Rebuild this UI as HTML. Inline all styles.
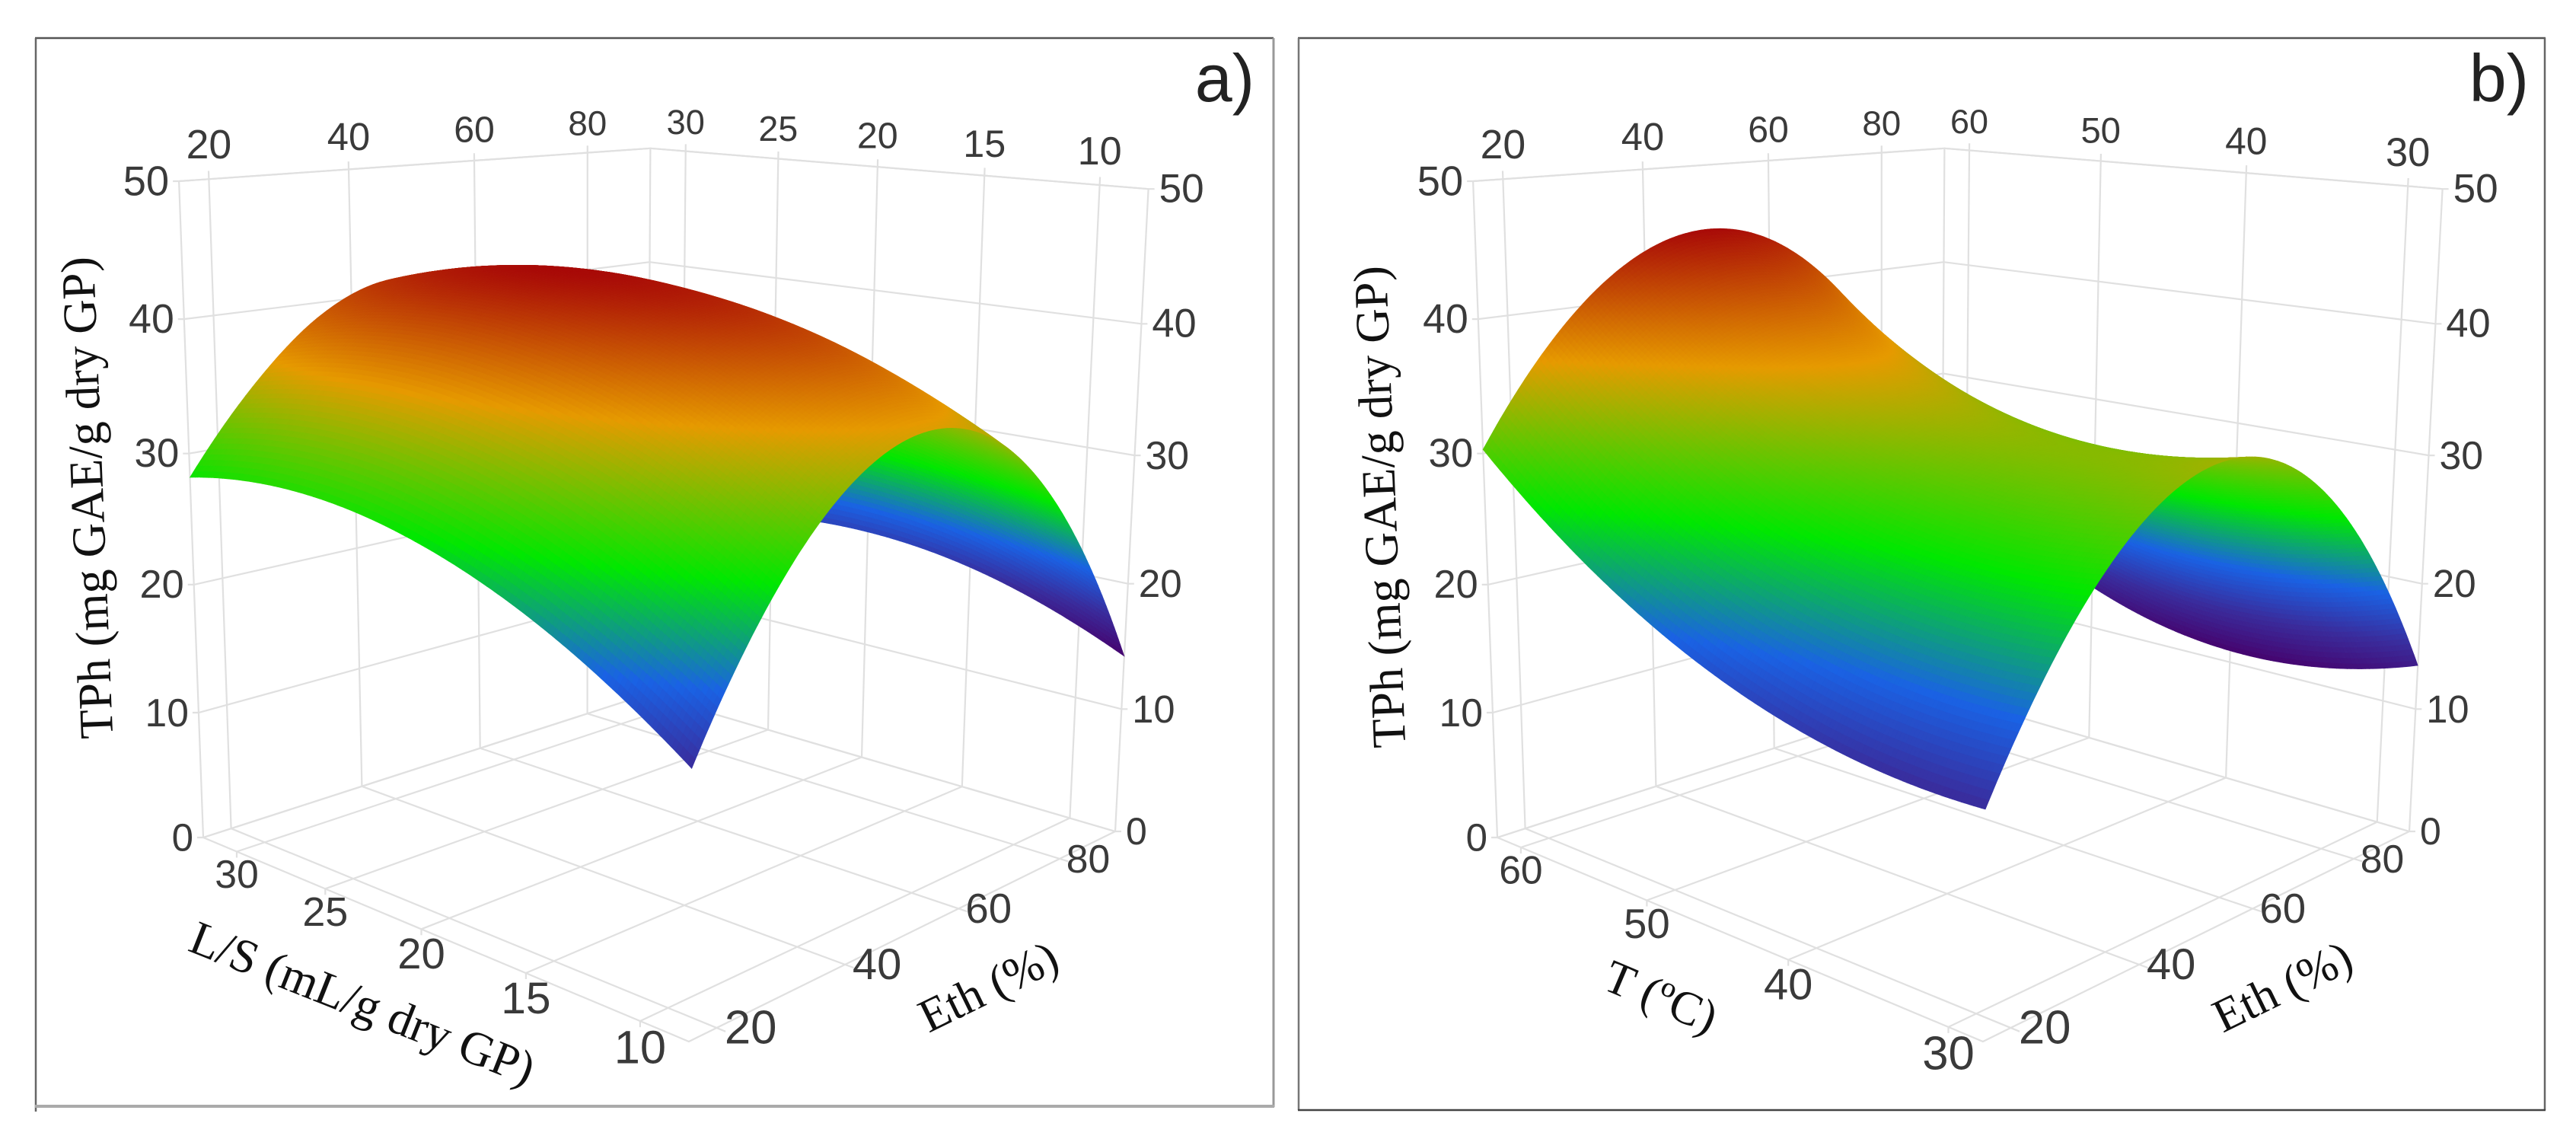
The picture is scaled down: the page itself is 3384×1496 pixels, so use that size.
<!DOCTYPE html>
<html lang="en">
<head>
<meta charset="utf-8">
<title>TPh response surfaces</title>
<style>
html,body{margin:0;padding:0;background:#fff;}
svg{display:block;}
.tick{font-family:"Liberation Sans",sans-serif;fill:#3a3a3a;dominant-baseline:central;}
.title{font-family:"Liberation Serif",serif;fill:#111;}
.letter{font-family:"Liberation Sans",sans-serif;fill:#222;font-size:88px;}
</style>
</head>
<body>
<svg id="chart" xmlns="http://www.w3.org/2000/svg" width="3384" height="1496" viewBox="0 0 3384 1496">
  <rect x="0" y="0" width="3384" height="1496" fill="#ffffff"/>
  <g>
    <line x1="46" y1="50" x2="1673" y2="50" stroke="#555" stroke-width="2.5"/>
    <line x1="47" y1="50" x2="47" y2="1460" stroke="#666" stroke-width="2.5"/>
    <line x1="1673" y1="50" x2="1673" y2="1454" stroke="#999" stroke-width="3"/>
    <line x1="46" y1="1453" x2="1674" y2="1453" stroke="#aaa" stroke-width="4"/>
  </g>
  <g>
    <line x1="1705" y1="50" x2="3344" y2="50" stroke="#555" stroke-width="2.5"/>
    <line x1="1706" y1="50" x2="1706" y2="1458" stroke="#777" stroke-width="2.5"/>
    <line x1="3343" y1="50" x2="3343" y2="1458" stroke="#666" stroke-width="2.5"/>
    <line x1="1705" y1="1458" x2="3344" y2="1458" stroke="#444" stroke-width="2.5"/>
  </g>
  <g id="panelA"></g>
  <g id="panelB"></g>
  <text class="letter" x="1648" y="133" text-anchor="end">a)</text>
  <text class="letter" x="3322" y="133" text-anchor="end">b)</text>
  <text class="title" font-size="63" text-anchor="middle" transform="translate(135.5,653) rotate(-92.3)">TPh (mg GAE/g dry GP)</text>
  <text class="title" font-size="63" transform="translate(245,1248) rotate(21.7)">L/S (mL/g dry GP)</text>
  <text class="title" font-size="62" transform="translate(1220,1357) rotate(-26)">Eth (%)</text>
  <text class="title" font-size="63" text-anchor="middle" transform="translate(1833.5,665) rotate(-92.3)">TPh (mg GAE/g dry GP)</text>
  <text class="title" font-size="62" transform="translate(2103,1298) rotate(23)">T (ºC)</text>
  <text class="title" font-size="62" transform="translate(2920,1357) rotate(-26)">Eth (%)</text>
</svg>
<script>
// ---- chart data ----
const zTicks = [0, 10, 20, 30, 40, 50];
const ethTicks = [20, 40, 60, 80];
const lsTicks = [30, 25, 20, 15, 10];
const tempTicks = [60, 50, 40, 30];

const ethGrid = [16, 25.5, 35, 44.5, 54, 63.5, 73, 82.5, 92];
const lsGrid = [32, 29, 26, 23, 20, 17, 14, 11, 8];
const tempGrid = [62, 57.75, 53.5, 49.25, 45, 40.75, 36.5, 32.25, 28];

// rows: Eth ascending; columns: L/S descending
const tphLs = [
  [28.20, 28.95, 29.12, 28.71, 27.71, 26.15, 24.01, 21.26, 17.92],
  [34.47, 35.43, 35.81, 35.60, 34.81, 33.53, 31.66, 29.11, 25.98],
  [38.90, 40.01, 40.54, 40.47, 39.83, 38.70, 36.98, 34.59, 31.60],
  [41.03, 42.27, 42.92, 42.99, 42.48, 41.48, 39.89, 37.63, 34.77],
  [40.70, 42.08, 42.87, 43.07, 42.69, 41.83, 40.38, 38.25, 35.53],
  [37.95, 39.46, 40.39, 40.73, 40.48, 39.76, 38.44, 36.45, 33.87],
  [32.86, 34.50, 35.55, 36.01, 35.90, 35.28, 34.09, 32.22, 29.76],
  [25.57, 27.30, 28.45, 29.02, 29.00, 28.46, 27.34, 25.57, 23.21],
  [15.91, 17.75, 18.99, 19.66, 19.73, 19.25, 18.18, 16.50, 14.24]
];

// rows: Eth ascending; columns: T descending
const tphTemp = [
  [30.30, 26.57, 23.36, 20.69, 18.55, 16.94, 15.86, 15.32, 15.30],
  [37.34, 33.63, 30.49, 27.90, 25.88, 24.42, 23.53, 23.19, 23.42],
  [42.09, 38.40, 35.29, 32.78, 30.87, 29.55, 28.82, 28.69, 29.15],
  [44.55, 40.85, 37.79, 35.34, 33.52, 32.33, 31.76, 31.82, 32.50],
  [44.72, 41.02, 37.97, 35.58, 33.84, 32.76, 32.34, 32.58, 33.47],
  [42.61, 38.88, 35.85, 33.49, 31.83, 30.86, 30.58, 30.97, 32.06],
  [38.20, 34.44, 31.40, 29.08, 27.48, 26.59, 26.43, 26.99, 28.26],
  [31.49, 27.69, 24.63, 22.34, 20.78, 19.98, 19.92, 20.63, 22.07],
  [22.50, 18.64, 15.56, 13.27, 11.75, 11.02, 11.06, 11.89, 13.50]
];

// ---- rendering ----
const SVGNS = 'http://www.w3.org/2000/svg';
const GRID_COLOR = '#e0e0e0';
const STEPS = 150;
const rampStops = [0, 0.13, 0.27, 0.47, 0.745, 1];
const rampColors = [[70,4,110],[58,44,156],[26,98,228],[0,232,0],[230,154,0],[168,10,8]];

function rampColor(t) {
  t = Math.max(0, Math.min(1, t));
  let k = 0;
  while (k < rampStops.length - 2 && t > rampStops[k + 1]) k++;
  const f = (t - rampStops[k]) / (rampStops[k + 1] - rampStops[k]);
  const a = rampColors[k], b = rampColors[k + 1];
  return 'rgb(' + Math.round(a[0] + (b[0] - a[0]) * f) + ',' + Math.round(a[1] + (b[1] - a[1]) * f) + ',' + Math.round(a[2] + (b[2] - a[2]) * f) + ')';
}

function depth(u, v, s) { return 1 + 0.2056 * u - 0.1847 * v - 0.06 * s; }

function project(u, v, s, dx) {
  const w = depth(u, v, s);
  return {
    x: (267 + 757.8 * u + 470.8 * v - 46 * s) / w + dx,
    y: (1100 - 0.5 * u + 15.3 * v - 876.3 * s) / w,
    w: w
  };
}

function cr(a, b, c, d, t) {
  return 0.5 * (2 * b + (c - a) * t + (2 * a - 5 * b + 4 * c - d) * t * t + (3 * b - a - 3 * c + d) * t * t * t);
}

function withGhosts(arr) {
  const n = arr.length;
  return [3 * arr[0] - 3 * arr[1] + arr[2]].concat(arr, [3 * arr[n - 1] - 3 * arr[n - 2] + arr[n - 3]]);
}

function sample1d(arr, f) {
  const g = withGhosts(arr);
  const n = arr.length;
  const i = Math.max(0, Math.min(n - 2, Math.floor(f)));
  return cr(g[i], g[i + 1], g[i + 2], g[i + 3], f - i);
}

function sampleGrid(table, fi, fj) {
  const col = table.map(function (row) { return sample1d(row, fj); });
  return sample1d(col, fi);
}

function drawPanel(group, dx, prefix, rowGrid, colGrid, table, colTicks) {
  const rMin = rowGrid[0], rMax = rowGrid[rowGrid.length - 1];
  const cMax = colGrid[0], cMin = colGrid[colGrid.length - 1];
  const uOf = function (e) { return (e - rMin) / (rMax - rMin); };
  const vOf = function (c) { return (cMax - c) / (cMax - cMin); };
  const sOf = function (z) { return z / 50; };
  const P = function (u, v, s) { return project(u, v, s, dx); };

  function polyline(pts, name) {
    const el = document.createElementNS(SVGNS, 'polyline');
    el.setAttribute('points', pts.map(function (p) { return p.x.toFixed(1) + ',' + p.y.toFixed(1); }).join(' '));
    el.setAttribute('fill', 'none');
    el.setAttribute('stroke', GRID_COLOR);
    el.setAttribute('stroke-width', '2.2');
    
    
    group.appendChild(el);
  }

  function label(txt, x, y, w, anchor, name) {
    const el = document.createElementNS(SVGNS, 'text');
    el.setAttribute('class', 'tick');
    el.setAttribute('x', x.toFixed(1));
    el.setAttribute('y', y.toFixed(1));
    el.setAttribute('text-anchor', anchor);
    el.setAttribute('font-size', (51 / w).toFixed(1));
    el.textContent = txt;
    
    
    group.appendChild(el);
  }

  // box outline
  polyline([P(0,0,0), P(1,0,0), P(1,1,0), P(0,1,0), P(0,0,0)], prefix + '-floor-outline');
  polyline([P(0,0,0), P(0,0,1)], prefix + '-left-edge');
  polyline([P(1,0,0), P(1,0,1)], prefix + '-back-edge');
  polyline([P(1,1,0), P(1,1,1)], prefix + '-right-edge');
  polyline([P(0,0,1), P(1,0,1), P(1,1,1)], prefix + '-top-edge');

  // z gridlines + labels
  zTicks.forEach(function (z) {
    const s = sOf(z);
    const a = P(0,0,s), b = P(1,0,s), c = P(1,1,s);
    polyline([{x:a.x - 8, y:a.y}, a, b, c, {x:c.x + 8, y:c.y}], prefix + '-z-gridline');
    label(String(z), a.x - 13, a.y, a.w, 'end', prefix + '-z-tick-left');
    label(String(z), c.x + 14, c.y, c.w, 'start', prefix + '-z-tick-right');
  });

  // Eth gridlines + labels
  ethTicks.forEach(function (e) {
    const u = uOf(e);
    polyline([P(u,0,0), P(u,0,1.012)], prefix + '-eth-wall-gridline');
    polyline([P(u,0,0), P(u,1.015,0)], prefix + '-eth-floor-gridline');
    const top = P(u,0,1);
    label(String(e), top.x, top.y - 43 / top.w, top.w, 'middle', prefix + '-eth-tick-top');
    const low = P(u,1,0);
    label(String(e), low.x + 37 / low.w, low.y, low.w, 'middle', prefix + '-eth-tick-bottom');
  });

  // second factor gridlines + labels
  colTicks.forEach(function (c) {
    const v = vOf(c);
    polyline([P(1,v,0), P(1,v,1.012)], prefix + '-factor-wall-gridline');
    const edge = P(0,v,0);
    polyline([P(1,v,0), edge, {x:edge.x, y:edge.y + 8}], prefix + '-factor-floor-gridline');
    const top = P(1,v,1);
    label(String(c), top.x, top.y - 43 / top.w, top.w, 'middle', prefix + '-factor-tick-top');
    label(String(c), edge.x, edge.y + 29 / edge.w, edge.w, 'middle', prefix + '-factor-tick-bottom');
  });

  // surface
  const nodes = [];
  let zMin = Infinity, zMax = -Infinity;
  const fiScale = (rowGrid.length - 1) / STEPS, fjScale = (colGrid.length - 1) / STEPS;
  for (let i = 0; i <= STEPS; i++) {
    const row = [];
    for (let j = 0; j <= STEPS; j++) {
      const z = sampleGrid(table, i * fiScale, j * fjScale);
      if (z < zMin) zMin = z;
      if (z > zMax) zMax = z;
      const e = rMin + (rMax - rMin) * i / STEPS;
      const c = cMax + (cMin - cMax) * j / STEPS;
      const p = P(uOf(e), vOf(c), sOf(z));
      p.z = z;
      row.push(p);
    }
    nodes.push(row);
  }
  const cells = [];
  for (let i = 0; i < STEPS; i++) {
    for (let j = 0; j < STEPS; j++) {
      const a = nodes[i][j], b = nodes[i + 1][j], c = nodes[i + 1][j + 1], d = nodes[i][j + 1];
      cells.push({pts:[a,b,c,d], w:(a.w + b.w + c.w + d.w) / 4, z:(a.z + b.z + c.z + d.z) / 4});
    }
  }
  cells.sort(function (p, q) { return q.w - p.w; });
  const surface = document.createElementNS(SVGNS, 'g');
  
  
  cells.forEach(function (cell) {
    const col = rampColor((cell.z - zMin) / (zMax - zMin));
    const el = document.createElementNS(SVGNS, 'polygon');
    el.setAttribute('points', cell.pts.map(function (p) { return p.x.toFixed(1) + ',' + p.y.toFixed(1); }).join(' '));
    el.setAttribute('fill', col);
    el.setAttribute('stroke', col);
    el.setAttribute('stroke-width', '0.6');
    
    
    surface.appendChild(el);
  });
  group.appendChild(surface);
}

drawPanel(document.getElementById('panelA'), 0, 'panel-a', ethGrid, lsGrid, tphLs, lsTicks);
drawPanel(document.getElementById('panelB'), 1700, 'panel-b', ethGrid, tempGrid, tphTemp, tempTicks);
</script>
</body>
</html>
